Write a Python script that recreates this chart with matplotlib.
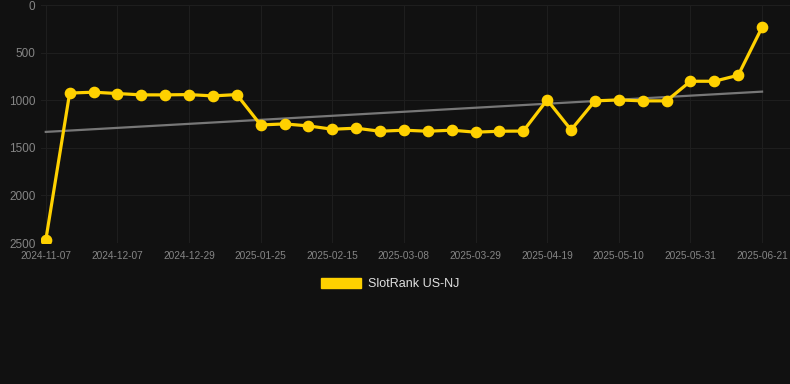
import matplotlib
matplotlib.use("Agg")
import matplotlib.pyplot as plt
from matplotlib.patches import Patch
import numpy as np

plt.rcParams['font.family'] = ['Liberation Sans', 'DejaVu Sans']

dates = ["2024-11-07", "2024-11-17", "2024-11-27", "2024-12-07", "2024-12-14",
         "2024-12-22", "2024-12-29", "2025-01-08", "2025-01-16", "2025-01-25",
         "2025-02-01", "2025-02-08", "2025-02-15", "2025-02-22", "2025-03-01",
         "2025-03-08", "2025-03-15", "2025-03-22", "2025-03-29", "2025-04-05",
         "2025-04-12", "2025-04-19", "2025-04-26", "2025-05-03", "2025-05-10",
         "2025-05-17", "2025-05-24", "2025-05-31", "2025-06-07", "2025-06-14",
         "2025-06-21"]
rank = [2470, 925, 916, 930, 944, 944, 941, 955, 941, 1260,
        1249, 1270, 1305, 1294, 1326, 1315, 1326, 1315, 1336, 1326,
        1324, 997, 1312, 1007, 997, 1007, 1007, 801, 801, 738,
        234]
trend_ends = [1333, 910]
yticks = [0, 500, 1000, 1500, 2000, 2500]
series_label = "SlotRank US-NJ"

bg = '#111111'
yellow = '#FFD100'

fig = plt.figure(figsize=(7.9, 3.84), dpi=100, facecolor=bg)
ax = fig.add_axes([41/790, 1-243/384, 1-41/790, (243-5)/384])
ax.set_facecolor(bg)

x = np.arange(len(rank))
ax.plot([x[0], x[-1]], trend_ends, color='#777777', lw=1.6, zorder=2)
ax.plot(x, rank, color=yellow, lw=2.3, marker='o', ms=7.4, zorder=3)

ax.set_ylim(2500, 0)
ax.set_xlim(-0.2, 31.17)
ax.set_yticks(yticks)
ax.set_yticklabels([str(v) for v in yticks])
tick_idx = list(range(0, len(dates), 3))
ax.set_xticks(tick_idx)
ax.set_xticklabels([dates[i] for i in tick_idx])

ax.grid(True, color='#1e1e1e', lw=0.8)
ax.set_axisbelow(True)
for s in ax.spines.values():
    s.set_visible(False)
ax.tick_params(axis='both', length=0)
ax.tick_params(axis='y', labelsize=8.5, colors='#858585', pad=4)
ax.tick_params(axis='x', labelsize=7.3, colors='#858585', pad=6)

handle = Patch(facecolor=yellow, edgecolor=yellow)
leg = fig.legend([handle], [series_label], loc='center', bbox_to_anchor=(390/790, 1-284/384),
                 frameon=False, fontsize=9, handlelength=3.2, handleheight=0.9,
                 handletextpad=0.6)
for t in leg.get_texts():
    t.set_color('#e0e0e0')

fig.savefig('out.png', dpi=100, facecolor=bg)
